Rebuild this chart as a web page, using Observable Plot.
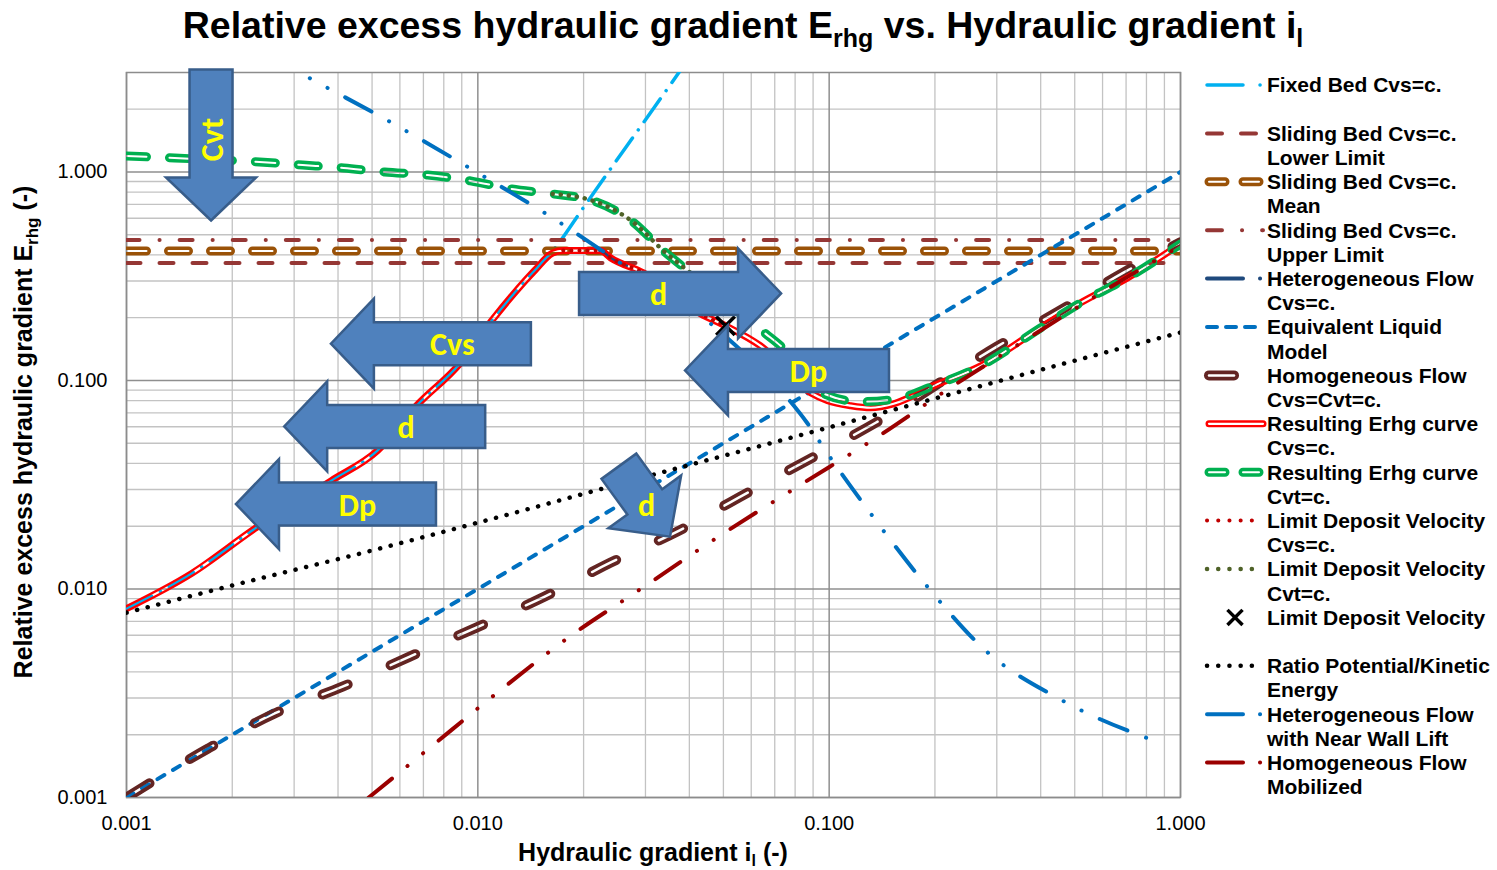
<!DOCTYPE html>
<html>
<head>
<meta charset="utf-8">
<script src="https://cdn.jsdelivr.net/npm/d3@7"></script>
<script src="https://cdn.jsdelivr.net/npm/@observablehq/plot@0.6"></script>
<style>
  html, body { margin: 0; padding: 0; background: #fff; overflow: hidden; }
</style>
</head>
<body>
<div id="chart"></div>
<script>
// ---------------------------------------------------------------
// Erhg versus il (log-log), DHLLDV framework curves
// each series: [hydraulic gradient il, relative excess gradient Erhg]
// ---------------------------------------------------------------
const fixedBed = [
  [0.001, 0.00805], [0.00153, 0.01185], [0.00234, 0.01968], [0.00383, 0.0331],
  [0.00518, 0.0461], [0.00669, 0.0757], [0.00887, 0.120], [0.01094, 0.193],
  [0.01264, 0.260], [0.01449, 0.336], [0.01633, 0.418], [0.01986, 0.665],
  [0.0231, 0.957], [0.0263, 1.303], [0.03184, 2.049], [0.03726, 2.98], [0.0431, 4.2]
];
const slidingLower = [[0.001, 0.366], [1, 0.366]];
const slidingMean = [[0.001, 0.418], [1, 0.418]];
const slidingUpper = [[0.001, 0.472], [1, 0.472]];
const heterogeneous = [[0.0223, 0.42], [0.0239, 0.387], [0.0296, 0.328], [0.0431, 0.2087]];
const equivalentLiquid = [[0.001, 0.001], [1, 1]];
const homogeneous = [
  [0.001, 0.001], [0.00171, 0.00172], [0.00264, 0.00253], [0.00412, 0.0034],
  [0.0064, 0.00474], [0.0099, 0.00653], [0.0155, 0.0092], [0.0239, 0.0134],
  [0.0373, 0.019], [0.0571, 0.0283], [0.0885, 0.0422], [0.1356, 0.0627],
  [0.2995, 0.145], [0.4625, 0.2205], [0.686, 0.328], [1, 0.46]
];
const resultingCvs = [
  [0.001, 0.00805], [0.00153, 0.01185], [0.00234, 0.01968], [0.00383, 0.0331],
  [0.00518, 0.0461], [0.00669, 0.0757], [0.00887, 0.120], [0.01094, 0.193],
  [0.01264, 0.260], [0.01449, 0.336], [0.01633, 0.409], [0.0175, 0.42],
  [0.0223, 0.42], [0.0239, 0.387], [0.0296, 0.328], [0.0431, 0.2087],
  [0.0507, 0.183], [0.0638, 0.1465], [0.0885, 0.0873], [0.099, 0.080],
  [0.1151, 0.0757], [0.1313, 0.074], [0.1526, 0.0773], [0.1982, 0.0943],
  [0.270, 0.1174], [0.400, 0.1789], [0.5196, 0.2357], [0.7068, 0.3105], [1, 0.452]
];
const resultingCvt = [
  [0.001, 1.193], [0.00137, 1.167], [0.00239, 1.117], [0.00317, 1.08],
  [0.00415, 1.045], [0.00543, 1.0], [0.0072, 0.967], [0.00953, 0.906],
  [0.01247, 0.829], [0.01633, 0.785], [0.02135, 0.726], [0.0274, 0.582],
  [0.0338, 0.418], [0.0414, 0.317], [0.0524, 0.228], [0.0655, 0.169],
  [0.0742, 0.1423], [0.0964, 0.0866], [0.1229, 0.0791], [0.1545, 0.0815],
  [0.1982, 0.0943], [0.270, 0.1174], [0.400, 0.1789], [0.5196, 0.2357],
  [0.7068, 0.3105], [1, 0.452]
];
const ldvCvs = [[0.0175, 0.42], [0.0223, 0.42], [0.0239, 0.387], [0.0296, 0.328], [0.0431, 0.2087], [0.0507, 0.183]];
const ldvCvt = [[0.01633, 0.785], [0.02135, 0.726], [0.0274, 0.582], [0.0338, 0.418], [0.0414, 0.317]];
const ldvPoint = [[0.0507, 0.183]];
const ratioEnergy = [
  [0.001, 0.0077], [0.002, 0.0104], [0.005, 0.0153], [0.01, 0.0208], [0.03, 0.0345],
  [0.1, 0.0596], [0.16, 0.074], [0.4, 0.1125], [1, 0.17]
];
const nearWallLift = [
  [0.0025, 3.7], [0.00313, 2.98], [0.00564, 1.736], [0.0098, 1.01], [0.01633, 0.602],
  [0.0267, 0.347], [0.0439, 0.1998], [0.0531, 0.1517], [0.0742, 0.0866],
  [0.0868, 0.0622], [0.0964, 0.0476], [0.1313, 0.023], [0.1893, 0.01038],
  [0.2786, 0.00507], [0.4557, 0.00295], [0.8837, 0.001816]
];
const mobilized = [
  [0.00489, 0.001], [0.00714, 0.00168], [0.01138, 0.00319], [0.0181, 0.00585],
  [0.0292, 0.01005], [0.0494, 0.01823], [0.0829, 0.0316], [0.1374, 0.0537],
  [0.2188, 0.0912], [0.3671, 0.1588], [0.593, 0.263], [1, 0.442]
];

// axis ticks
const majorTicks = [0.001, 0.01, 0.1, 1];
const tickMultipliers = [2, 3, 4, 5, 6, 7, 8, 9];
const minorX = [0.001, 0.01, 0.1].flatMap(d => tickMultipliers.map(m => m * d));
const minorY = minorX.concat([2]);

// legend names (line breaks as wrapped in the legend box)
const names = {
  fixedBed: "Fixed Bed Cvs=c.",
  slidingLower: "Sliding Bed Cvs=c.\nLower Limit",
  slidingMean: "Sliding Bed Cvs=c.\nMean",
  slidingUpper: "Sliding Bed Cvs=c.\nUpper Limit",
  heterogeneous: "Heterogeneous Flow\nCvs=c.",
  equivalentLiquid: "Equivalent Liquid\nModel",
  homogeneous: "Homogeneous Flow\nCvs=Cvt=c.",
  resultingCvs: "Resulting Erhg curve\nCvs=c.",
  resultingCvt: "Resulting Erhg curve\nCvt=c.",
  ldvCvs: "Limit Deposit Velocity\nCvs=c.",
  ldvCvt: "Limit Deposit Velocity\nCvt=c.",
  ldvPoint: "Limit Deposit Velocity",
  ratioEnergy: "Ratio Potential/Kinetic\nEnergy",
  nearWallLift: "Heterogeneous Flow\nwith Near Wall Lift",
  mobilized: "Homogeneous Flow\nMobilized"
};

// line styles; "inner" marks a double (compound) line with a see-through core
const styles = {
  fixedBed:        {color: "#00B0F0", width: 3.5, dash: "28,10,0.1,10", legendDash: "36,17,0.1,100", curve: "monotone-x"},
  slidingLower:    {color: "#953735", width: 4,   dash: "14,19", legendDash: "15,19"},
  slidingMean:     {color: "#9A5208", width: 9,   inner: 2, dash: "20,22", legendDash: "16,18"},
  slidingUpper:    {color: "#953735", width: 4,   dash: "13,20,0.1,20", legendDash: "15,20,0.1,20"},
  heterogeneous:   {color: "#1F497D", width: 4,   dash: "30,20,0.1,20", legendDash: "36,17,0.1,100", curve: "monotone-x"},
  equivalentLiquid:{color: "#0070C0", width: 4,   dash: "8,10", legendDash: "10,9"},
  homogeneous:     {color: "#632523", width: 10,  inner: 2.5, dash: "27,47", legendDash: "25,100", curve: "monotone-x"},
  resultingCvs:    {color: "#FF0000", width: 7,   inner: 2.2, dash: null, legendDash: null, curve: "monotone-x"},
  resultingCvt:    {color: "#00B050", width: 9,   inner: 2, dash: "20,23", legendDash: "16,18", curve: "monotone-x"},
  ldvCvs:          {color: "#C00000", width: 4,   dash: "0.1,8", legendDash: "0.1,11.1", curve: "monotone-x"},
  ldvCvt:          {color: "#4F6228", width: 4.5, dash: "0.1,8", legendDash: "0.1,11.1", curve: "monotone-x"},
  ratioEnergy:     {color: "#000000", width: 4.5, dash: "0.1,10.8", legendDash: "0.1,11.1", curve: "monotone-x"},
  nearWallLift:    {color: "#0070C0", width: 4,   dash: "30,20,0.1,20,0.1,20", legendDash: "36,17,0.1,100", curve: "monotone-x"},
  mobilized:       {color: "#9B0000", width: 4,   dash: "30,20,0.1,20,0.1,20", legendDash: "36,17,0.1,100", curve: "monotone-x"}
};

const seriesData = {
  fixedBed, slidingLower, slidingMean, slidingUpper, heterogeneous, equivalentLiquid,
  homogeneous, resultingCvs, resultingCvt, ldvCvs, ldvCvt, ratioEnergy, nearWallLift, mobilized
};
// drawing order (later series on top)
const drawOrder = [
  "fixedBed", "slidingLower", "slidingMean", "slidingUpper", "heterogeneous",
  "equivalentLiquid", "homogeneous", "resultingCvs", "resultingCvt", "ldvCvs",
  "ldvCvt", "ldvPoint", "ratioEnergy", "nearWallLift", "mobilized"
];
const lineKeys = drawOrder.filter(k => k !== "ldvPoint");
// first legend row of each entry (rows are evenly spaced)
const legendRows = {
  fixedBed: 0, slidingLower: 2, slidingMean: 4, slidingUpper: 6, heterogeneous: 8,
  equivalentLiquid: 10, homogeneous: 12, resultingCvs: 14, resultingCvt: 16,
  ldvCvs: 18, ldvCvt: 20, ldvPoint: 22, ratioEnergy: 24, nearWallLift: 26, mobilized: 28
};

// block-arrow annotations: tip position in data units, pointing angle in degrees
const arrowNotes = [
  {text: "Cvt", x: 0.001746, y: 0.582, angle: 90, body: 108, shift: 16, vertical: true},
  {text: "d",   x: 0.0732,   y: 0.260, angle: 0,   body: 159},
  {text: "Cvs", x: 0.00383,  y: 0.1494, angle: 180, body: 157},
  {text: "d",   x: 0.00282,  y: 0.0599, angle: 180, body: 158},
  {text: "Dp",  x: 0.002056, y: 0.0254, angle: 180, body: 157},
  {text: "Dp",  x: 0.039,    y: 0.1112, angle: 180, body: 161},
  {text: "d",   x: 0.03536,  y: 0.01773, angle: 54, body: 44, shift: 25}
];
const arrowShape = {headLen: 43, headW: 90, bodyW: 43};

const W = 1497, H = 870;
const font = "'Liberation Sans', Arial, Helvetica, sans-serif";

function seriesMark(key) {
  const st = styles[key];
  return Plot.line(seriesData[key], {
    x: d => d[0], y: d => d[1],
    stroke: st.color, strokeWidth: st.width,
    strokeDasharray: st.dash || undefined,
    strokeLinecap: "round", strokeLinejoin: "round",
    curve: st.curve || "linear", clip: true
  });
}

const marks = [
  Plot.ruleX(minorX, {stroke: "#c3c3c3", strokeWidth: 1.3}),
  Plot.ruleY(minorY, {stroke: "#c3c3c3", strokeWidth: 1.3}),
  Plot.ruleX(majorTicks, {stroke: "#8f8f8f", strokeWidth: 1.5}),
  Plot.ruleY(majorTicks, {stroke: "#8f8f8f", strokeWidth: 1.5}),
  Plot.frame({stroke: "#8c8c8c", strokeWidth: 1.5}),
  Plot.axisX({ticks: majorTicks, tickFormat: ".3f", tickSize: 0, tickPadding: 18, label: null, fontSize: 20}),
  Plot.axisY({ticks: majorTicks, tickFormat: ".3f", tickSize: 0, tickPadding: 19, label: null, fontSize: 20})
];
for (const key of drawOrder) {
  if (key === "ldvPoint") {
    marks.push(Plot.dot(ldvPoint, {x: d => d[0], y: d => d[1], symbol: "times", r: 8.5, stroke: "#000", strokeWidth: 3.5}));
  } else {
    marks.push(seriesMark(key));
  }
}

const chart = Plot.plot({
  width: W, height: H,
  marginLeft: 126, marginRight: 317, marginTop: 72, marginBottom: 73,
  style: {fontFamily: font, fontSize: "20px", color: "#000", background: "#fff"},
  x: {type: "log", domain: [0.001, 1]},
  y: {type: "log", domain: [0.001, 3]},
  marks
});
document.getElementById("chart").appendChild(chart);

const svg = d3.select(chart);
const defs = svg.append("defs");

// hollow core for double lines: mask out a thin stroke along the same path
const lineGroups = svg.selectAll('g[aria-label="line"]').nodes();
let maskId = 0;
lineKeys.forEach((key, i) => {
  const st = styles[key];
  const g = lineGroups[i];
  if (!st.inner || !g) return;
  d3.select(g).selectAll("path").each(function () {
    const id = "hollow-" + (maskId++);
    const m = defs.append("mask").attr("id", id).attr("maskUnits", "userSpaceOnUse")
      .attr("x", -200).attr("y", -200).attr("width", W + 400).attr("height", H + 400);
    m.append("rect").attr("x", -200).attr("y", -200).attr("width", W + 400).attr("height", H + 400).attr("fill", "white");
    m.append("path").attr("d", this.getAttribute("d")).attr("fill", "none")
      .attr("stroke", "black").attr("stroke-width", st.inner)
      .attr("stroke-linecap", "round").attr("stroke-linejoin", "round")
      .attr("stroke-dasharray", st.dash);
    this.setAttribute("mask", `url(#${id})`);
  });
});

// block arrows with yellow labels
const xs = chart.scale("x"), ys = chart.scale("y");
const ag = svg.append("g");
for (const a of arrowNotes) {
  const px = xs.apply(a.x), py = ys.apply(a.y);
  const hl = arrowShape.headLen, hw = arrowShape.headW / 2, bw = arrowShape.bodyW / 2, L = a.body;
  const pts = [[0, 0], [-hl, -hw], [-hl, -bw], [-hl - L, -bw], [-hl - L, bw], [-hl, bw], [-hl, hw]];
  ag.append("polygon")
    .attr("points", pts.map(p => p.join(",")).join(" "))
    .attr("transform", `translate(${px},${py}) rotate(${a.angle})`)
    .attr("fill", "#4F81BD").attr("stroke", "#385D8A").attr("stroke-width", 2.5);
  const rad = a.angle * Math.PI / 180;
  const c = -hl - L / 2 + (a.shift || 0);
  const tx = px + c * Math.cos(rad), ty = py + c * Math.sin(rad);
  ag.append("text")
    .attr("x", tx).attr("y", ty).attr("dy", "0.36em").attr("text-anchor", "middle")
    .attr("transform", a.vertical ? `rotate(-90 ${tx} ${ty})` : null)
    .attr("fill", "#FFFF00")
    .style("font", `bold 32px Carlito, Calibri, 'Liberation Sans Narrow', Lato, sans-serif`)
    .text(a.text);
}

// title
const title = svg.append("text").attr("x", 743).attr("y", 38).attr("text-anchor", "middle")
  .style("font", `bold 37.5px ${font}`).attr("fill", "#000");
title.append("tspan").text("Relative excess hydraulic gradient E");
title.append("tspan").attr("dy", 9).style("font-size", "25px").text("rhg");
title.append("tspan").attr("dy", -9).text(" vs. Hydraulic gradient i");
title.append("tspan").attr("dy", 9).style("font-size", "25px").text("l");

// axis titles
const xt = svg.append("text").attr("x", 653).attr("y", 861).attr("text-anchor", "middle")
  .style("font", `bold 25px ${font}`).attr("fill", "#000");
xt.append("tspan").text("Hydraulic gradient i");
xt.append("tspan").attr("dy", 5).style("font-size", "16px").text("l");
xt.append("tspan").attr("dy", -5).text(" (-)");

const yt = svg.append("text").attr("transform", "translate(32,432) rotate(-90)").attr("text-anchor", "middle")
  .style("font", `bold 25px ${font}`).attr("fill", "#000");
yt.append("tspan").text("Relative excess hydraulic gradient E");
yt.append("tspan").attr("dy", 6).style("font-size", "17px").text("rhg");
yt.append("tspan").attr("dy", -6).text(" (-)");

// legend
const lg = svg.append("g").attr("text-anchor", "start");
const rowH = 24.2, row0 = 85, sx0 = 1207, sx1 = 1263, textX = 1267;
for (const key of drawOrder) {
  const y = row0 + legendRows[key] * rowH;
  if (key === "ldvPoint") {
    lg.append("path").attr("d", d3.symbol(d3.symbolTimes, 150)())
      .attr("transform", `translate(1235,${y})`).attr("fill", "none")
      .attr("stroke", "#000").attr("stroke-width", 3.5);
  } else {
    const st = styles[key];
    const x0 = st.inner ? sx0 + 2 : sx0;
    lg.append("path").attr("d", `M${x0},${y}H${sx1}`).attr("fill", "none")
      .attr("stroke", st.color).attr("stroke-width", st.width)
      .attr("stroke-linecap", "round").attr("stroke-dasharray", st.legendDash);
    if (st.inner) {
      lg.append("path").attr("d", `M${x0},${y}H${sx1}`).attr("fill", "none")
        .attr("stroke", "#fff").attr("stroke-width", st.inner)
        .attr("stroke-linecap", "round").attr("stroke-dasharray", st.legendDash);
    }
  }
  names[key].split("\n").forEach((line, i) => {
    lg.append("text").attr("x", textX).attr("y", y + i * rowH).attr("dy", "0.35em")
      .attr("text-anchor", "start")
      .style("font", `bold 21px ${font}`).attr("fill", "#000").text(line);
  });
}
</script>
</body>
</html>
